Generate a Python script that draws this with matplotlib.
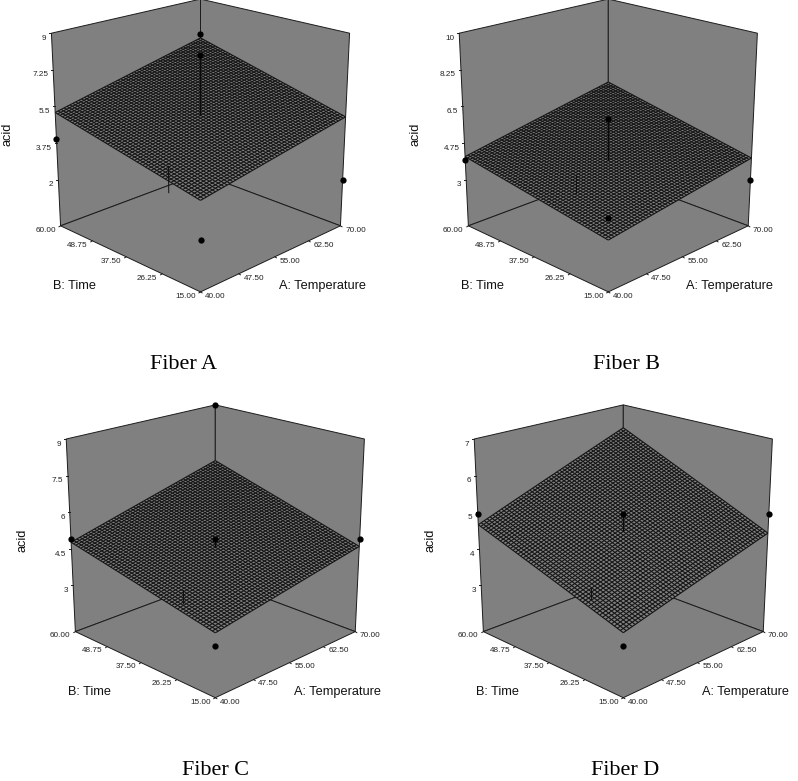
import numpy as np
import matplotlib
matplotlib.use("Agg")
import matplotlib.pyplot as plt
from matplotlib.collections import LineCollection

names = ["Fiber A", "Fiber B", "Fiber C", "Fiber D"]
temp_ticks = [40.0, 47.5, 55.0, 62.5, 70.0]
time_ticks = [15.0, 26.25, 37.5, 48.75, 60.0]

z_ticks_a = [2, 3.75, 5.5, 7.25, 9]
z_ticks_b = [3, 4.75, 6.5, 8.25, 10]
z_ticks_c = [3, 4.5, 6, 7.5, 9]
z_ticks_d = [3, 4, 5, 6, 7]
z_ticks = [z_ticks_a, z_ticks_b, z_ticks_c, z_ticks_d]
z_floor = [-0.21, 0.79, 1.11, 1.74]

# surface height at (T=40,t=15), (70,15), (40,60), (70,60)
surf_a = [3.71, 5.0, 5.21, 6.95]
surf_b = [3.01, 4.03, 4.1, 5.62]
surf_c = [3.49, 4.6, 4.77, 6.48]
surf_d = [3.33, 4.43, 4.66, 6.31]
surfaces = [surf_a, surf_b, surf_c, surf_d]

# design points: temperature, time, acid
pts_a = [(40, 15, 2.0), (70, 15, 2.0), (40, 60, 3.93), (70, 60, 7.16), (55, 37.5, 7.94)]
pts_b = [(40, 15, 3.97), (70, 15, 3.0), (40, 60, 3.94), (55, 37.5, 5.92)]
pts_c = [(40, 15, 3.0), (70, 15, 4.92), (40, 60, 4.92), (70, 60, 9.0), (55, 37.5, 4.92)]
pts_d = [(40, 15, 3.0), (70, 15, 4.95), (40, 60, 4.95), (55, 37.5, 4.95)]
points = [pts_a, pts_b, pts_c, pts_d]

# centre stem from surface up to the centre point
centre_low = [5.07, 3.96, 4.57, 4.5]
centre_high = [7.94, 5.92, 4.92, 4.95]
# short stem at T=40, t=24
side_low = [3.5, 4.47, 4.08, 3.83]
side_high = [4.66, 5.26, 4.59, 4.11]

# panel layout in pixels, front floor corner of each box
fronts = [(200.5, 292.5), (608.3, 292.5), (215.3, 698.3), (623.3, 698.3)]
title_pos = [(184, 364.7), (626.7, 364.7), (216, 770.3), (625, 770.3)]

# box corners (u, v, w) against pixels relative to the front corner
box_3d = [(0, 0, 0), (1, 0, 0), (0, 1, 0), (1, 1, 0), (0, 1, 1), (1, 0, 1), (1, 1, 1), (0, 0, 1)]
box_2d = [(0, 0), (140, -67.5), (-140, -67.5), (0, -118),
          (-149, -259.5), (149, -259.5), (0, -293.5), (0, -215)]


def camera():
    rows = []
    for (u, v, w), (x, y) in zip(box_3d, box_2d):
        rows.append([u, v, w, 1, 0, 0, 0, 0, -x*u, -x*v, -x*w, -x])
        rows.append([0, 0, 0, 0, u, v, w, 1, -y*u, -y*v, -y*w, -y])
    _, _, vt = np.linalg.svd(np.array(rows, dtype=float))
    return vt[-1].reshape(3, 4)


cam = camera()


def project_plane(u, v, w):
    h = cam @ np.stack([u.ravel(), v.ravel(), np.full(u.size, w), np.ones(u.size)])
    return (h[0]/h[2]).reshape(u.shape), (h[1]/h[2]).reshape(u.shape)


# heights run evenly up each vertical, so go between floor and roof
def project(u, v, w, front):
    u, v, w = np.broadcast_arrays(np.asarray(u, float), np.asarray(v, float), np.asarray(w, float))
    x0, y0 = project_plane(u, v, 0.0)
    x1, y1 = project_plane(u, v, 1.0)
    return x0 + (x1 - x0)*w + front[0], y0 + (y1 - y0)*w + front[1]


def norm_t(t):
    return (np.asarray(t, float) - 40.0) / 30.0


def norm_b(b):
    return (np.asarray(b, float) - 15.0) / 45.0


fig = plt.figure(figsize=(7.98, 7.81), dpi=100)
ax = fig.add_axes([0, 0, 1, 1])
ax.set_xlim(0, 798)
ax.set_ylim(781, 0)
ax.axis("off")

wall = "#808080"
ink = "#1c1c1c"
sans = "Liberation Sans"

for i, name in enumerate(names):
    front = fronts[i]
    zlo = z_floor[i]
    zhi = z_ticks[i][-1]

    def nz(z):
        return (np.asarray(z, float) - zlo) / (zhi - zlo)

    def corner(u, v, w):
        x, y = project(u, v, w, front)
        return float(x), float(y)

    # walls and floor
    for quad in [[(0, 1, 1), (0, 1, 0), (1, 1, 0), (1, 1, 1)],
                 [(1, 0, 1), (1, 0, 0), (1, 1, 0), (1, 1, 1)],
                 [(0, 0, 0), (1, 0, 0), (1, 1, 0), (0, 1, 0)]]:
        ax.fill(*zip(*[corner(*q) for q in quad]), facecolor=wall, edgecolor=ink,
                linewidth=0.7, zorder=1, clip_on=True)

    # response surface, unsnapped lines so the mesh shades evenly
    nu = 54
    uu, vv = np.meshgrid(np.linspace(0, 1, nu + 1), np.linspace(0, 1, nu + 1))
    s = surfaces[i]
    zz = s[0]*(1-uu)*(1-vv) + s[1]*uu*(1-vv) + s[2]*(1-uu)*vv + s[3]*uu*vv
    X, Y = project(uu, vv, nz(zz), front)
    outline = np.column_stack([
        np.r_[X[0, :], X[:, -1], X[-1, ::-1], X[::-1, 0]],
        np.r_[Y[0, :], Y[:, -1], Y[-1, ::-1], Y[::-1, 0]]])
    ax.fill(outline[:, 0], outline[:, 1], facecolor=wall, edgecolor="none", zorder=2)
    segs = [np.column_stack([X[k, :], Y[k, :]]) for k in range(nu + 1)]
    segs += [np.column_stack([X[:, k], Y[:, k]]) for k in range(nu + 1)]
    ax.add_collection(LineCollection(segs, colors="#141414", linewidths=0.8, zorder=2.1,
                                     antialiaseds=True, capstyle="butt"))
    ax.collections[-1].set_snap(False)

    # stems
    sx, sy = project([0.5, 0.5], [0.5, 0.5], nz([centre_low[i], centre_high[i]]), front)
    ax.plot(sx, sy, color="#0a0a0a", lw=0.9, zorder=3)
    sx, sy = project([0, 0], [norm_b(24.0)]*2, nz([side_low[i], side_high[i]]), front)
    ax.plot(sx, sy, color="#101010", lw=0.7, zorder=3)

    # design points
    for t, b, z in points[i]:
        px, py = project(norm_t(t), norm_b(b), nz(z), front)
        ax.plot(px, py, "o", color="black", ms=4.5, mew=0, zorder=4, clip_on=False)

    # z axis
    for z in z_ticks[i]:
        tx, ty = corner(0, 1, nz(z))
        ax.plot([tx - 2, tx], [ty, ty], color=ink, lw=0.7, zorder=3)
        ax.text(tx - 5, ty + 5.2, f"{z:g}", ha="right", va="center", fontsize=5.9,
                family=sans, color="#222222")

    # floor axes
    for t in temp_ticks:
        tx, ty = corner(norm_t(t), 0, 0)
        ax.plot([tx, tx + 1.6], [ty, ty + 1], color=ink, lw=0.7, zorder=3)
        ax.text(tx + 15, ty + 4.3, f"{t:.2f}", ha="center", va="center", fontsize=5.9,
                family=sans, color="#222222")
    for b in time_ticks:
        tx, ty = corner(0, norm_b(b), 0)
        ax.plot([tx - 1.6, tx], [ty + 1, ty], color=ink, lw=0.7, zorder=3)
        ax.text(tx - 15, ty + 4.3, f"{b:.2f}", ha="center", va="center", fontsize=5.9,
                family=sans, color="#222222")

    ax.text(front[0] - 125.7, front[1] - 6.7, "B: Time", ha="center", va="center",
            fontsize=9.2, family=sans, color="#111111")
    ax.text(front[0] + 121.7, front[1] - 6.7, "A: Temperature", ha="center", va="center",
            fontsize=9.2, family=sans, color="#111111")
    ax.text(front[0] - 193, front[1] - 158.3, "acid", rotation=90, ha="center", va="center",
            fontsize=9.2, family=sans, color="#111111")
    ax.text(title_pos[i][0], title_pos[i][1], name, ha="center", va="center",
            fontsize=15.9, family="Liberation Serif", color="black")

fig.savefig("out.png", dpi=100, facecolor="white")
